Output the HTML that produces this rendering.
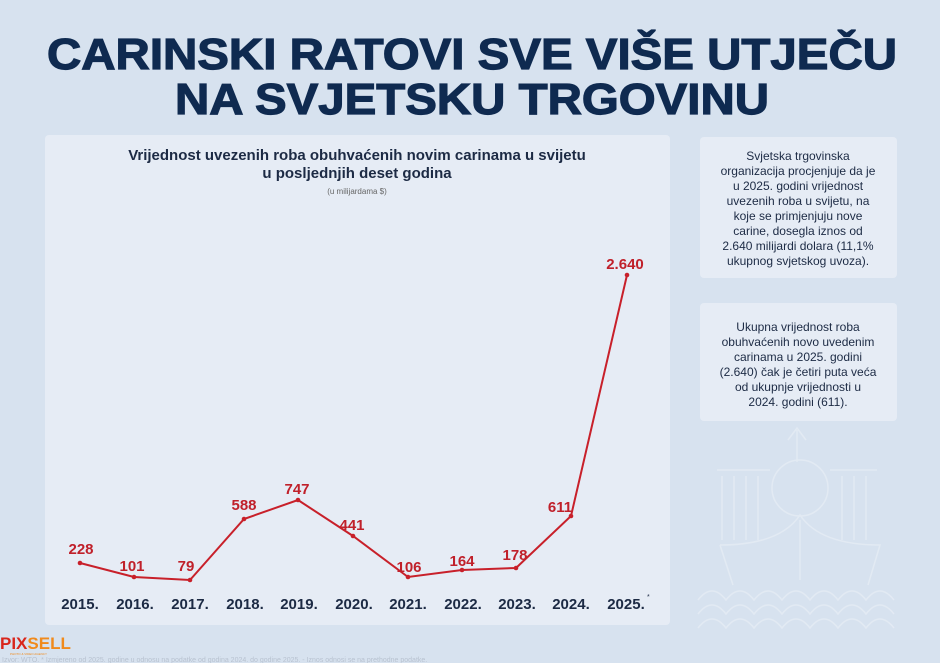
<!DOCTYPE html><html><head><meta charset="utf-8"><style>body{margin:0;background:#d7e2ef}svg{display:block}</style></head><body>
<svg width="940" height="663" viewBox="0 0 940 663" xmlns="http://www.w3.org/2000/svg" font-family="Liberation Sans, sans-serif">
<rect width="940" height="663" fill="#d7e2ef"/>
<g fill="#0f2a50" font-weight="bold" font-size="44" text-anchor="middle" stroke="#0f2a50" stroke-width="1.2">
<text x="472" y="69" textLength="850" lengthAdjust="spacingAndGlyphs">CARINSKI RATOVI SVE VIŠE UTJEČU</text>
<text x="472" y="114" textLength="594" lengthAdjust="spacingAndGlyphs">NA SVJETSKU TRGOVINU</text>
</g>
<rect x="45" y="135" width="625" height="490" rx="4" fill="#e6ecf5"/>
<g fill="#1c2a44" font-weight="bold" font-size="15" text-anchor="middle">
<text x="357" y="160">Vrijednost uvezenih roba obuhvaćenih novim carinama u svijetu</text>
<text x="357" y="178">u posljednjih deset godina</text>
</g>
<text x="357" y="194" font-size="8" fill="#666" text-anchor="middle">(u milijardama $)</text>
<polyline fill="none" stroke="#c8202a" stroke-width="2" points="80,563 134,577 190,580 244,519 298,500 353,536 408,577 462,570 516,568 571,516 627,275"/>
<g fill="#c8202a"><circle cx="80" cy="563" r="2.3"/><circle cx="134" cy="577" r="2.3"/><circle cx="190" cy="580" r="2.3"/><circle cx="244" cy="519" r="2.3"/><circle cx="298" cy="500" r="2.3"/><circle cx="353" cy="536" r="2.3"/><circle cx="408" cy="577" r="2.3"/><circle cx="462" cy="570" r="2.3"/><circle cx="516" cy="568" r="2.3"/><circle cx="571" cy="516" r="2.3"/><circle cx="627" cy="275" r="2.3"/></g>
<g fill="#c0202a" font-weight="bold" font-size="15" text-anchor="middle">
<text x="81" y="554">228</text><text x="132" y="571">101</text><text x="186" y="571">79</text><text x="244" y="510">588</text><text x="297" y="494">747</text><text x="352" y="530">441</text><text x="409" y="572">106</text><text x="462" y="566">164</text><text x="515" y="560">178</text><text x="560" y="512">611</text><text x="625" y="269">2.640</text>
</g>
<g fill="#1c2a44" font-weight="bold" font-size="15" text-anchor="middle">
<text x="80" y="609">2015.</text><text x="135" y="609">2016.</text><text x="190" y="609">2017.</text><text x="245" y="609">2018.</text><text x="299" y="609">2019.</text><text x="354" y="609">2020.</text><text x="408" y="609">2021.</text><text x="463" y="609">2022.</text><text x="517" y="609">2023.</text><text x="571" y="609">2024.</text><text x="626" y="609">2025.</text>
</g>
<text x="647" y="599" font-size="7" fill="#1c2a44">*</text>
<rect x="700" y="137" width="197" height="141" rx="4" fill="#e6ecf5"/>
<g fill="#1c2a44" font-size="12" text-anchor="middle">
<text x="798" y="160">Svjetska trgovinska</text><text x="798" y="175">organizacija procjenjuje da je</text><text x="798" y="190">u 2025. godini vrijednost</text><text x="798" y="205">uvezenih roba u svijetu, na</text><text x="798" y="220">koje se primjenjuju nove</text><text x="798" y="235">carine, dosegla iznos od</text><text x="798" y="250">2.640 milijardi dolara (11,1%</text><text x="798" y="265">ukupnog svjetskog uvoza).</text>
</g>
<rect x="700" y="303" width="197" height="118" rx="4" fill="#e6ecf5"/>
<g fill="#1c2a44" font-size="12" text-anchor="middle">
<text x="798" y="331">Ukupna vrijednost roba</text><text x="798" y="346">obuhvaćenih novo uvedenim</text><text x="798" y="361">carinama u 2025. godini</text><text x="798" y="376">(2.640) čak je četiri puta veća</text><text x="798" y="391">od ukupnje vrijednosti u</text><text x="798" y="406">2024. godini (611).</text>
</g>
<g fill="none" stroke="#e8eef6" stroke-width="1.5" opacity="0.7">
<path d="M717,470 H770 M830,470 H877 M722,476 V540 M734,476 V540 M746,476 V540 M758,476 V540 M842,476 V540 M854,476 V540 M866,476 V540"/>
<circle cx="800" cy="488" r="28"/><path d="M797,462 V430 M788,440 L797,428 L806,440"/>
<path d="M720,545 Q780,545 800,515 Q820,545 880,545 L868,585 M720,545 L733,585 M800,520 V580"/>
<path d="M698,600 q14,-18 28,0 q14,-18 28,0 q14,-18 28,0 q14,-18 28,0 q14,-18 28,0 q14,-18 28,0 q14,-18 28,0 M698,614 q14,-18 28,0 q14,-18 28,0 q14,-18 28,0 q14,-18 28,0 q14,-18 28,0 q14,-18 28,0 q14,-18 28,0 M698,628 q14,-18 28,0 q14,-18 28,0 q14,-18 28,0 q14,-18 28,0 q14,-18 28,0 q14,-18 28,0 q14,-18 28,0"/>
</g>
<text x="0" y="649" font-size="17" font-weight="bold" fill="#d9261c">PIX<tspan fill="#f08a1c">SELL</tspan></text>
<text x="10" y="655" font-size="3" fill="#f08a1c">PHOTO &amp; VIDEO AGENCY</text>
<text x="2" y="662" font-size="7" fill="#b8c2d0">Izvor: WTO. * Izmjereno od 2025. godine u odnosu na podatke od godina 2024. do godine 2025. - Iznos odnosi se na prethodne podatke.</text>
</svg>
</body></html>
